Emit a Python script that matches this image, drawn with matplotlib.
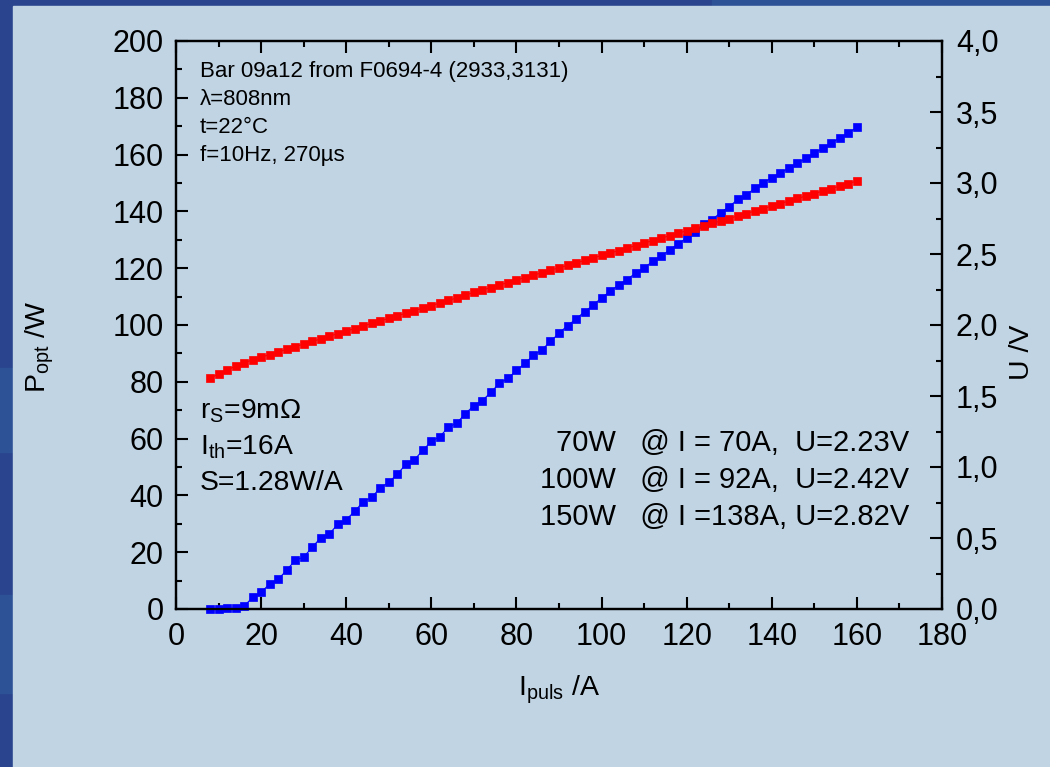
import matplotlib
matplotlib.use("Agg")
import matplotlib.pyplot as plt
from matplotlib.patches import Rectangle
from matplotlib.ticker import MultipleLocator, FuncFormatter

# Measured bar characteristics (pulsed operation)
current_A = list(range(8, 161, 2))
power_W = [
    0.0, 0.1, 0.2, 0.2, 1.0, 4.1, 5.9, 8.8, 10.4, 13.7,
    17.1, 18.3, 21.7, 25.1, 26.4, 29.8, 31.5, 34.4, 37.8, 39.3,
    42.7, 44.6, 47.5, 50.9, 52.5, 55.9, 59.0, 60.7, 64.0, 65.5,
    68.8, 71.6, 73.4, 76.3, 79.5, 81.2, 84.0, 86.5, 89.3, 91.3,
    94.2, 97.1, 99.8, 102.1, 104.7, 106.9, 109.6, 111.8, 114.1, 116.0,
    118.3, 120.1, 122.4, 124.2, 126.5, 128.5, 130.7, 132.9, 135.4, 137.1,
    139.6, 141.7, 144.2, 145.8, 148.1, 150.0, 151.9, 153.5, 155.3, 156.9,
    158.7, 160.5, 162.2, 164.1, 165.9, 167.6, 169.6,
]
voltage_V = [
    1.625, 1.655, 1.683, 1.710, 1.735, 1.754, 1.773, 1.792, 1.810, 1.829,
    1.847, 1.866, 1.884, 1.902, 1.921, 1.939, 1.957, 1.975, 1.993, 2.011,
    2.029, 2.047, 2.065, 2.083, 2.101, 2.119, 2.137, 2.155, 2.173, 2.191,
    2.210, 2.230, 2.247, 2.264, 2.282, 2.299, 2.316, 2.334, 2.351, 2.368,
    2.386, 2.403, 2.420, 2.437, 2.455, 2.472, 2.490, 2.507, 2.524, 2.542,
    2.559, 2.577, 2.594, 2.611, 2.629, 2.646, 2.664, 2.681, 2.698, 2.716,
    2.733, 2.750, 2.768, 2.785, 2.803, 2.820, 2.838, 2.855, 2.873, 2.891,
    2.908, 2.926, 2.943, 2.961, 2.979, 2.996, 3.014,
]

info_lines = ["Bar 09a12 from F0694-4 (2933,3131)", "λ=808nm", "t=22°C", "f=10Hz, 270µs"]
param_lines = [r"r$_\mathregular{S}$=9mΩ", r"I$_\mathregular{th}$=16A", "S=1.28W/A"]
op_lines = ["70W   @ I = 70A,  U=2.23V",
            "100W   @ I = 92A,  U=2.42V",
            "150W   @ I =138A, U=2.82V"]

plt.rcParams["font.family"] = ["Liberation Sans", "DejaVu Sans"]
plt.rcParams["mathtext.fontset"] = "custom"
plt.rcParams["mathtext.rm"] = "Liberation Sans"
plt.rcParams["mathtext.it"] = "Liberation Sans:italic"
plt.rcParams["mathtext.bf"] = "Liberation Sans:bold"

W, H = 1050, 767
fig = plt.figure(figsize=(W / 100, H / 100), dpi=100)
fig.patch.set_facecolor("#2a448e")

# slide background: dark frame with a light panel
dark2 = "#2e5296"
fig.patches.append(Rectangle((712 / W, 1 - 6 / H), (W - 712) / W, 6 / H,
                             transform=fig.transFigure, color=dark2, zorder=-10))
for y0, y1 in [(368, 452), (595, 693)]:
    fig.patches.append(Rectangle((0, 1 - y1 / H), 13 / W, (y1 - y0) / H,
                                 transform=fig.transFigure, color=dark2, zorder=-10))
fig.patches.append(Rectangle((13 / W, 0), 1 - 13 / W, 1 - 6 / H,
                             transform=fig.transFigure, color="#c0d4e4", zorder=-10))

left, right, top, bottom = 176, 942, 41, 609
ax = fig.add_axes([left / W, 1 - bottom / H, (right - left) / W, (bottom - top) / H])
ax.set_facecolor("none")
ax2 = ax.twinx()
ax2.set_facecolor("none")

ax.plot(current_A, power_W, color="#0000ff", lw=0.8, marker="s", ms=5.2,
        mec="#0000ff", mew=0.5, zorder=3, clip_on=False)
ax2.plot(current_A, voltage_V, color="#ff0000", lw=0.8, marker="s", ms=5.2,
         mec="#ff0000", mew=0.5, zorder=3, clip_on=False)

ax.set_xlim(0, 180)
ax.set_ylim(0, 200)
ax2.set_ylim(0, 4.0)

ax.xaxis.set_major_locator(MultipleLocator(20))
ax.xaxis.set_minor_locator(MultipleLocator(10))
ax.yaxis.set_major_locator(MultipleLocator(20))
ax.yaxis.set_minor_locator(MultipleLocator(10))
ax2.yaxis.set_major_locator(MultipleLocator(0.5))
ax2.yaxis.set_minor_locator(MultipleLocator(0.25))
ax2.yaxis.set_major_formatter(FuncFormatter(lambda v, p: f"{v:.1f}".replace(".", ",")))

for a in (ax, ax2):
    for s in a.spines.values():
        s.set_linewidth(1.6)
        s.set_color("black")

ax.tick_params(axis="x", which="both", direction="in", top=True, bottom=True,
               labelsize=22, pad=9.5, width=1.5, color="black")
ax.tick_params(axis="y", which="both", direction="in", left=True, right=False,
               labelsize=22, pad=9, width=1.5, color="black")
ax.tick_params(which="major", length=8.5)
ax.tick_params(which="minor", length=4.5)
ax2.tick_params(axis="y", which="both", direction="in", right=True, left=False,
                labelsize=22, pad=10, width=1.5, color="black")
ax2.tick_params(which="major", length=8.5)
ax2.tick_params(which="minor", length=4.5)

# axis titles
fig.text(40 / W, 1 - 347 / H, r"P$_\mathregular{opt}$ /W", rotation=90,
         ha="center", va="center", fontsize=20.5)
fig.text(1022 / W, 1 - 352 / H, "U /V", rotation=90,
         ha="center", va="center", fontsize=20.5)
fig.text(559 / W, 1 - 690 / H, r"I$_\mathregular{puls}$ /A",
         ha="center", va="center", fontsize=20.5)

# annotations
for i, line in enumerate(info_lines):
    fig.text(200 / W, 1 - (71 + 28.2 * i) / H, line, ha="left", va="center", fontsize=16)
for i, line in enumerate(param_lines):
    fig.text(200 / W, 1 - (411 + 36 * i) / H, line, ha="left", va="center", fontsize=20.3)
for i, line in enumerate(op_lines):
    fig.text(909 / W, 1 - (443 + 37 * i) / H, line, ha="right", va="center", fontsize=21)

fig.savefig("out.png", dpi=100, facecolor=fig.get_facecolor())
